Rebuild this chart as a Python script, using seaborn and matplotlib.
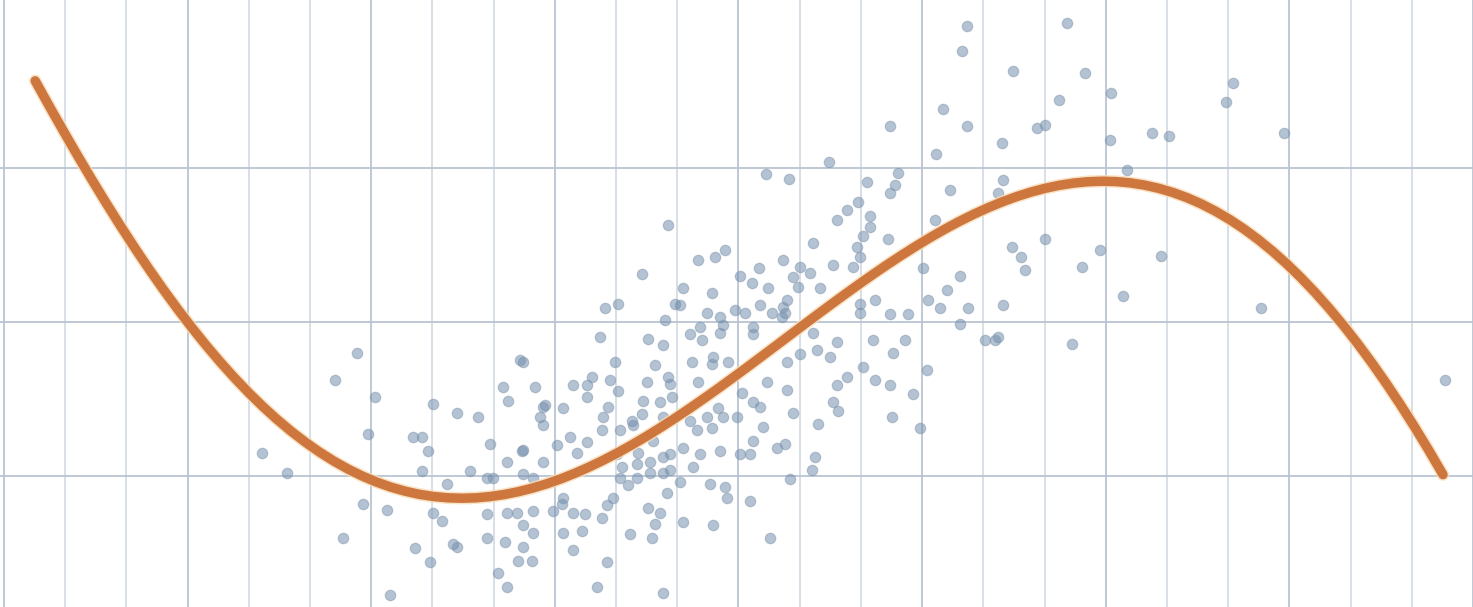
import matplotlib
matplotlib.use("Agg")
import matplotlib.pyplot as plt
import matplotlib.patheffects as pe
import numpy as np
import pandas as pd
import seaborn as sns

# Observations (x, y)
obs_x = [
    15.74, 17.37, 15.65, 16.49, 17.66, 18.09, 17.24, 15.34, 15.74, 14.48,
    16.88, 17.01, 20.08, 19.97, 18.76, 19.04, 20.92, 18.07, 16.31, 15.23,
    13.48, 12.45, 12.83, 14.10, 14.61, 14.56, 14.48, 15.46, 16.32, 16.24,
    18.35, 16.47, 16.62, 16.68, 17.01, 17.91, 17.61, 18.91, 18.28, 16.32,
    20.54, 16.24, 17.45, 23.55,
    13.95, 13.77, 13.61, 14.15, 14.15, 14.04, 14.44, 13.22, 13.94, 13.99,
    13.87, 12.73, 13.55, 15.21, 15.02, 15.62, 15.41, 15.10, 15.29, 15.75,
    15.62, 16.03, 16.19, 12.89, 12.97, 13.17, 13.33, 12.79, 12.76, 13.99,
    14.23, 13.99, 14.48, 14.77, 13.22, 13.61, 13.28, 13.50, 13.01, 12.79,
    14.20, 14.72, 14.53, 14.04, 15.08, 13.77, 13.61, 14.23, 14.48, 12.79,
    14.85, 13.55, 13.63, 12.89, 14.51, 13.30, 14.97, 12.76, 13.25, 13.20,
    12.84,
    10.85, 10.42, 11.34, 11.62, 11.78, 12.34, 11.09, 11.57, 12.03, 12.22,
    12.48, 13.01, 9.82, 10.03, 10.96, 11.05, 10.80, 11.49, 11.70, 11.94,
    12.11, 12.35, 12.55, 12.73, 12.71, 11.75, 11.37, 12.24, 9.74, 10.52,
    10.77, 11.21, 11.41, 11.70, 12.24, 8.48, 9.98, 10.64, 11.24, 11.58,
    11.57, 11.83, 8.68, 9.30, 9.53, 9.61, 9.90, 10.03, 10.51, 10.85,
    10.88, 11.34, 12.47, 9.53, 8.84, 9.13, 9.87, 10.44, 10.72, 10.92,
    11.67, 12.06, 12.24, 12.35, 8.76, 9.79, 10.26, 10.42, 10.77, 11.21,
    11.49, 11.75, 11.98, 8.81, 9.77, 10.07, 10.28, 11.32, 11.57, 12.40,
    9.25, 9.53, 9.04, 10.60, 12.24, 8.48, 9.36, 10.02, 10.36, 10.56,
    10.77, 10.88, 11.09, 11.37, 11.70, 12.03, 12.19, 12.63, 8.81, 10.10,
    10.34, 10.56, 10.77, 10.88, 11.26, 8.64, 8.48, 10.07, 10.20, 10.34,
    11.05, 11.54, 11.78, 11.81, 10.83, 12.19, 9.13, 9.12, 9.85, 9.95,
    8.64, 8.97, 9.30, 9.49, 9.77, 10.52, 10.72, 8.48, 10.64, 11.09,
    11.58, 8.64, 9.13, 9.44, 10.23, 10.59, 12.52, 8.48, 9.30, 8.63,
    9.85, 9.69, 10.77,
    5.77, 5.41, 6.06, 7.01, 5.95, 7.40, 7.75, 6.68, 6.83, 6.93,
    6.83, 7.24, 7.61, 7.89, 7.99, 7.94, 8.15, 8.24, 8.22, 4.22,
    4.62, 5.87, 6.26, 7.01, 7.16, 7.89, 8.22, 8.38, 5.54, 6.72,
    6.96, 7.34, 7.40, 7.89, 8.19, 8.40, 8.07, 8.22, 6.31, 8.43,
    8.81, 8.46,
]
obs_y = [
    2.92, 2.94, 2.76, 2.63, 2.62, 2.49, 2.44, 2.38, 2.27, 2.27,
    2.26, 2.28, 2.55, 2.43, 2.23, 2.21, 2.23, 2.18, 2.16, 2.09,
    2.04, 1.96, 1.93, 1.91, 1.97, 1.89, 1.84, 1.86, 1.92, 1.84,
    1.99, 1.49, 1.42, 1.34, 1.54, 1.47, 1.36, 1.43, 1.17, 1.11,
    1.09, 0.90, 0.86, 0.62,
    1.78, 1.73, 1.66, 1.69, 1.62, 1.56, 1.54, 1.51, 1.49, 1.42,
    1.36, 1.40, 1.37, 1.66, 1.35, 1.30, 1.21, 1.14, 1.09, 1.09,
    0.99, 0.88, 0.88, 1.29, 1.23, 1.32, 1.22, 1.14, 1.06, 1.12,
    1.14, 1.06, 1.05, 1.05, 0.93, 0.87, 0.82, 0.77, 0.79, 0.74,
    0.88, 0.88, 0.80, 0.71, 0.69, 0.64, 0.59, 0.62, 0.59, 0.56,
    0.53, 0.48, 0.42, 0.41, 0.38, 0.34, 0.31, 0.21, 0.12, 0.04,
    -0.02,
    1.63, 1.31, 1.40, 1.42, 1.47, 1.35, 1.22, 1.19, 1.30, 1.25,
    1.22, 1.36, 1.09, 1.12, 1.12, 1.11, 1.01, 1.06, 1.03, 1.08,
    1.06, 1.11, 1.06, 1.10, 1.03, 0.98, 0.97, 0.97, 0.90, 0.89,
    0.85, 0.92, 0.88, 0.93, 0.92, 0.74, 0.74, 0.72, 0.74, 0.77,
    0.73, 0.74, 0.58, 0.59, 0.59, 0.64, 0.62, 0.55, 0.61, 0.64,
    0.60, 0.61, 0.61, 0.51, 0.46, 0.44, 0.45, 0.49, 0.48, 0.51,
    0.44, 0.54, 0.48, 0.45, 0.38, 0.38, 0.36, 0.40, 0.38, 0.36,
    0.38, 0.38, 0.38, 0.33, 0.30, 0.30, 0.33, 0.30, 0.31, 0.32,
    0.25, 0.22, 0.20, 0.23, 0.23, 0.17, 0.15, 0.14, 0.15, 0.09,
    0.12, 0.14, 0.18, 0.14, 0.16, 0.14, 0.14, 0.18, 0.09, 0.06,
    0.08, 0.02, 0.02, 0.04, 0.06, -0.01, 0.01, -0.01, -0.06, -0.01,
    -0.04, -0.05, -0.07, -0.14, -0.11, -0.16, -0.14, -0.18, -0.19, -0.14,
    -0.23, -0.23, -0.24, -0.25, -0.27, -0.21, -0.24, -0.32, -0.31, -0.30,
    -0.32, -0.37, -0.37, -0.36, -0.38, -0.40, -0.40, -0.46, -0.48, -0.55,
    -0.56, -0.72, -0.76,
    0.80, 0.62, 0.51, 0.47, 0.27, 0.41, 0.38, 0.25, 0.25, 0.16,
    0.03, -0.05, 0.03, -0.01, -0.01, 0.21, 0.58, 0.49, 0.09, 0.15,
    0.02, -0.18, -0.22, -0.24, -0.29, -0.25, -0.24, -0.24, -0.40, -0.47,
    -0.56, -0.44, -0.46, -0.40, -0.43, -0.55, -0.63, -0.72, -0.77, 0.75,
    0.45, 0.16,
]

# Trend readings along x; a smooth polynomial is fitted through them
trend_x = [0.51, 1.08, 1.57, 2.22, 3.04, 3.86, 4.84, 5.65, 6.47, 7.29,
           8.10, 8.92, 9.74, 10.56, 11.37, 12.19, 13.01, 13.82, 14.64, 15.46,
           16.27, 17.09, 17.91, 18.73, 19.54, 20.36, 21.18, 21.99, 22.81, 23.51]
trend_y = [2.56, 2.16, 1.84, 1.44, 0.99, 0.60, 0.23, 0.03, -0.09, -0.14,
           -0.12, -0.05, 0.08, 0.27, 0.49, 0.73, 0.98, 1.21, 1.43, 1.62,
           1.77, 1.86, 1.90, 1.88, 1.77, 1.58, 1.31, 0.92, 0.47, 0.00]

points = pd.DataFrame({"x": obs_x, "y": obs_y})
trend = pd.DataFrame({"x": trend_x, "y": trend_y})

sns.set_style("white")
fig = plt.figure(figsize=(14.73, 6.07), dpi=100)
ax = fig.add_axes([0, 0, 1, 1])

sns.scatterplot(data=points, x="x", y="y", ax=ax, s=56, color="#6f8dad",
                alpha=0.52, edgecolor="#8499ae", linewidth=0.9, zorder=3)

sns.regplot(data=trend, x="x", y="y", ax=ax, order=5, ci=None,
            scatter=False, truncate=True,
            line_kws=dict(color="#cd763d", linewidth=6.8, zorder=4,
                          solid_capstyle="round",
                          path_effects=[pe.Stroke(linewidth=9.0,
                                                  foreground="#f8dcb8",
                                                  alpha=0.8),
                                        pe.Normal()]))

ax.set_xlim(-0.065, 24.0)
ax.set_ylim(-0.851, 3.091)
ax.set_xticks(np.arange(0, 25, 3))
ax.set_xticks(np.arange(0, 25, 1), minor=True)
ax.set_yticks([0, 1, 2])
ax.grid(which="major", axis="both", color="#b9c5d2", linewidth=1.3, zorder=0)
ax.grid(which="minor", axis="x", color="#cdd6e0", linewidth=1.1, zorder=0)
ax.set_axisbelow(True)
ax.tick_params(which="both", length=0, labelbottom=False, labelleft=False)
ax.set_xlabel("")
ax.set_ylabel("")
for spine in ax.spines.values():
    spine.set_visible(False)

fig.savefig("out.png", dpi=100, facecolor="white")
